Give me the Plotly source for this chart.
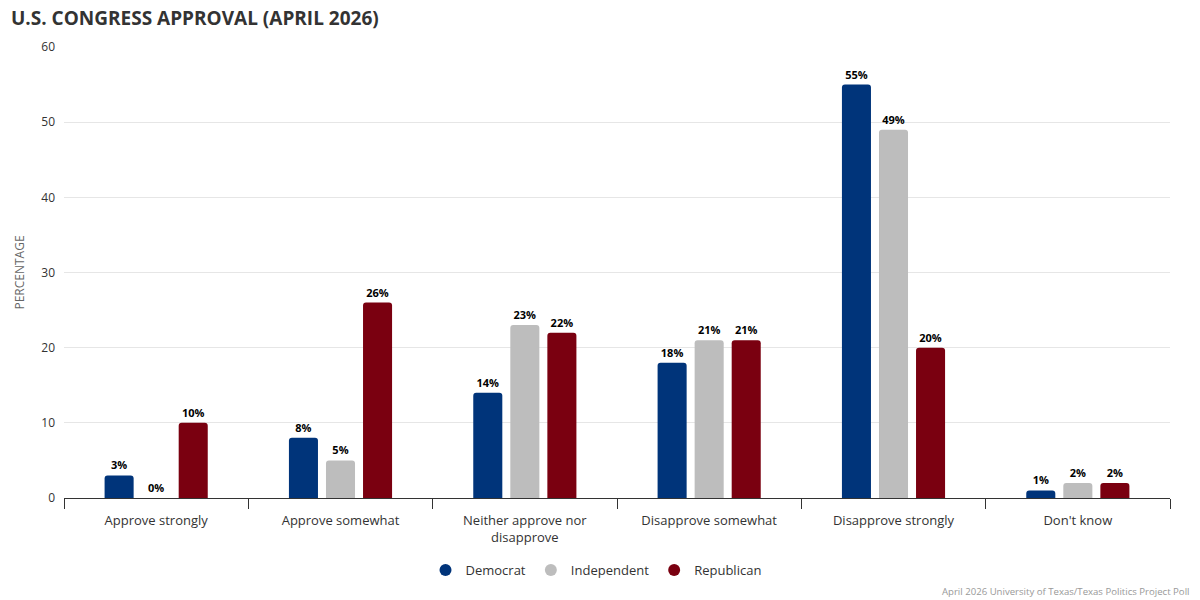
import plotly.graph_objects as go

categories = ["Approve strongly", "Approve somewhat", "Neither approve nor<br>disapprove",
              "Disapprove somewhat", "Disapprove strongly", "Don't know"]
democrat = [3, 8, 14, 18, 55, 1]
independent = [0, 5, 23, 21, 49, 2]
republican = [10, 26, 22, 21, 20, 2]
series_names = ["Democrat", "Independent", "Republican"]
colors = ["#00347A", "#BDBDBD", "#7A0010"]
y_ticks = [0, 10, 20, 30, 40, 50, 60]

fig = go.Figure()
for name, vals, col in zip(series_names, [democrat, independent, republican], colors):
    fig.add_trace(go.Bar(
        x=categories, y=vals, name=name, showlegend=False, legendgroup=name,
        marker=dict(color=col, line=dict(width=0)),
        text=[f"{v}%" for v in vals], textposition="outside",
        textfont=dict(family="Open Sans", size=11, color="#000000", weight="bold"),
        cliponaxis=False,
    ))
# legend entries with circle symbols
for name, col in zip(series_names, colors):
    fig.add_trace(go.Scatter(x=[None], y=[None], mode="markers", name=name, legendgroup=name,
                             marker=dict(color=col, size=13, symbol="circle")))

fig.update_layout(
    width=1200, height=600,
    barmode="group", bargap=0.397, bargroupgap=0.216, barcornerradius=3,
    plot_bgcolor="white", paper_bgcolor="white",
    margin=dict(l=64, r=30, t=47, b=102, autoexpand=False),
    font=dict(family="Open Sans", color="#333333"),
    legend=dict(orientation="h", x=(596-64)/1106, xanchor="center", y=-0.16, yanchor="middle",
                font=dict(size=13, color="#333333"), itemsizing="constant", itemwidth=30),
    annotations=[
        dict(text="<b>U.S. CONGRESS APPROVAL (APRIL 2026)</b>", xref="paper", yref="paper",
             x=(9-64)/1106, y=1+(47-18)/451, xanchor="left", yanchor="middle",
             showarrow=False, font=dict(family="Open Sans", size=19, color="#333333")),
        dict(text="April 2026 University of Texas/Texas Politics Project Poll",
             xref="paper", yref="paper", x=(1191-64)/1106, y=-(591-498)/451,
             xanchor="right", yanchor="middle", showarrow=False,
             font=dict(size=9.6, color="#999999")),
    ],
)
fig.update_xaxes(showline=True, linecolor="#333333", linewidth=1, ticks="outside",
                 tickson="boundaries", ticklen=10, tickcolor="#333333",
                 ticklabelstandoff=10,
                 tickfont=dict(size=13, color="#333333"), showgrid=False)
fig.update_yaxes(range=[0, 60], tickvals=y_ticks, showgrid=True, gridcolor="#e6e6e6",
                 zeroline=False, tickfont=dict(size=12, color="#333333"),
                 ticklabelstandoff=8,
                 title=dict(text="PERCENTAGE", font=dict(size=12, color="#666666"), standoff=14))

fig.write_html("out.html", config={"displayModeBar": False},
               post_script="document.body.style.margin='0';")
